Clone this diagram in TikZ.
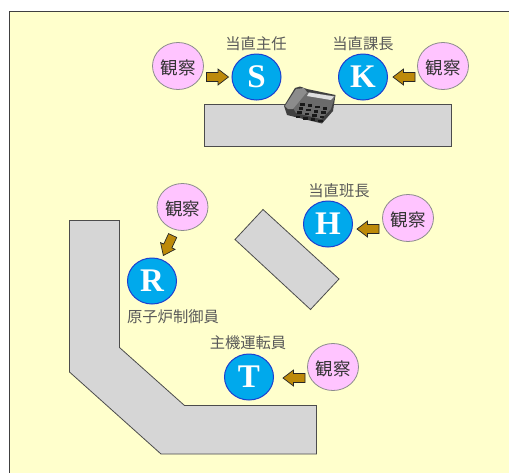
\documentclass[tikz,border=0pt]{standalone}
\usepackage{fontspec}
\setmainfont{Liberation Serif}
\newfontfamily\cjk{Noto Sans CJK JP}[Scale=1.0]
\usetikzlibrary{shapes.geometric}
\definecolor{bgyellow}{HTML}{FFFFCC}
\definecolor{deskgray}{HTML}{D6D6D6}
\definecolor{obspink}{HTML}{FFC4FF}
\definecolor{crewblue}{HTML}{00A9EC}
\definecolor{crewedge}{HTML}{1C3FCF}
\definecolor{arrowgold}{HTML}{BD8A0A}
\newcommand{\lookarrow}[3]{\begin{scope}[shift={(#1,#2)},rotate=#3]
  \draw[look] (-11,-4.5) -- (0.5,-4.5) -- (0.5,-8) -- (11,0) -- (0.5,8) -- (0.5,4.5) -- (-11,4.5) -- cycle;
\end{scope}}
\newcommand{\obstext}{\raisebox{-8.5pt}[0pt][0pt]{観察}}
\tikzset{
  x=1pt,y=-1pt,
  desk/.style={draw=black!70,line width=0.8pt,fill=deskgray,line join=miter},
  obs/.style={ellipse,draw=black!45,line width=0.8pt,fill=obspink,minimum width=51pt,minimum height=47pt,inner sep=0pt,font=\cjk\fontsize{17.5}{17.5}\selectfont,text=black!80},
  crew/.style={ellipse,draw=crewedge,line width=1pt,fill=crewblue,minimum width=49pt,minimum height=46pt,inner sep=0pt,font=\fontsize{33}{33}\selectfont\bfseries,text=white},
  role/.style={inner sep=0pt,font=\cjk\fontsize{15.3}{15.3}\selectfont,text=black!65},
  look/.style={draw=black!85,line width=0.7pt,fill=arrowgold,line join=miter},
}
\begin{document}
\begin{tikzpicture}
\useasboundingbox (0,0) rectangle (509,472);
\clip (0,0) rectangle (509,472);
\fill[white] (0,0) rectangle (509,472);
% frame
\draw[draw=black!75,line width=0.9pt,fill=bgyellow] (9.5,480) -- (9.5,11.5) -- (520,11.5) -- (520,480) -- cycle;
% desks
\draw[desk] (204.5,104) rectangle (451,146);
\draw[desk] (69.5,220.5) -- (119.5,220.5) -- (119.5,347.5) -- (184.5,405.5) -- (316.5,405.5) -- (316.5,454) -- (161,454) -- (69.5,372) -- cycle;
\draw[desk] (263,209.5) -- (339,279) -- (310.5,309.5) -- (235,239.5) -- cycle;
% crew
\node[crew] (S) at (256.5,77) {S};
\node[crew] (K) at (363,77) {K};
\node[crew] (H) at (328,224) {H};
\node[crew] (R) at (152,281) {R};
\node[crew] (T) at (249,377) {T};
% roles
\node[role] (rS) at (256,43.5) {当直主任};
\node[role] (rK) at (363,43.5) {当直課長};
\node[role] (rH) at (339,190.5) {当直班長};
\node[role] (rR) at (173,316.5) {原子炉制御員};
\node[role] (rT) at (248,342.5) {主機運転員};
% observers
\node[obs] (oS) at (178,66) {\obstext};
\node[obs] (oK) at (443,66) {\obstext};
\node[obs] (oH) at (408,218) {\obstext};
\node[obs] (oR) at (182.5,207) {\obstext};
\node[obs] (oT) at (333,367) {\obstext};
% look arrows
\lookarrow{217.5}{77}{0}
\lookarrow{404}{77}{180}
\lookarrow{368}{229}{180}
\lookarrow{294}{378}{180}
\lookarrow{168}{245.5}{-115}
% telephone
\begin{scope}[line join=round]
  \fill[black!75] (284,106) -- (287,115) -- (322,123.5) -- (333,111) -- (335.5,95) -- (307,89) -- (300,86.5) -- (295,88) -- cycle;
  \fill[black!58] (293,108) -- (306,92) -- (335,96) -- (331,109) -- (321,119) -- (296,113) -- cycle;
  \fill[black!45] (285,106) -- (296,89) -- (304,88) -- (307,92) -- (293,109) -- (288,109) -- cycle;
  \fill[black!12] (309,92.5) -- (334,96.5) -- (331,100) -- (307,96) -- cycle;
  \foreach \r in {0,1,2,3} \foreach \c in {0,1,2,3}
    \fill[black!90] ({300+\c*7.5+\r*-1.5},{103+\c*1.4+\r*4.2}) rectangle +(4.5,2.6);
\end{scope}
\end{tikzpicture}
\end{document}
